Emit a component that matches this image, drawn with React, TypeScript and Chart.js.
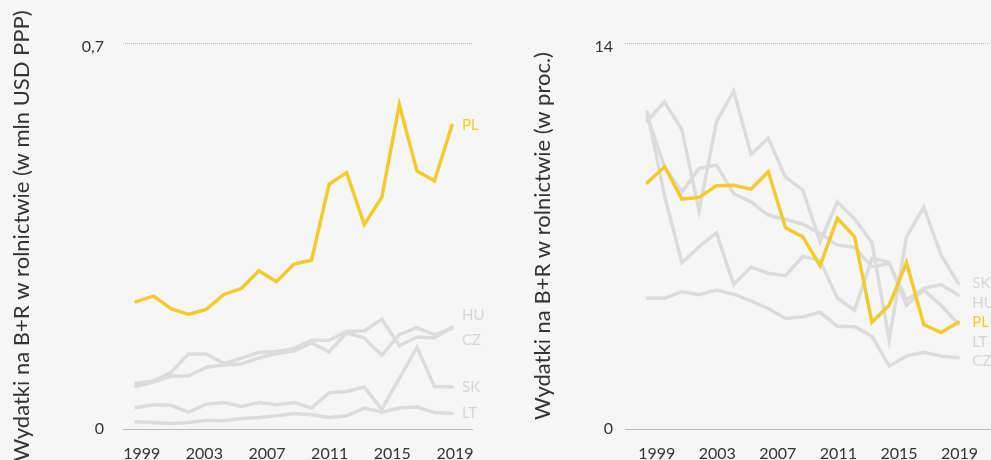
import React, { useEffect, useRef } from 'react';
import { Chart, registerables } from 'chart.js';

Chart.register(...registerables);

const FONT = "Lato, 'Open Sans', sans-serif";
const YELLOW = '#f2cc2f';
const GREY = '#dcdcdc';
const AXIS_GREY = '#bdbdbd';
const GRID_GREY = '#bdbdbd';
const TEXT = '#333333';

// Years of the observations (19 yearly points)
const YEARS = [2000, 2001, 2002, 2003, 2004, 2005, 2006, 2007, 2008, 2009, 2010, 2011, 2012, 2013, 2014, 2015, 2016, 2017, 2018];
// Year labels shown on the horizontal axis
const YEAR_TICKS = [1999, 2003, 2007, 2011, 2015, 2019];

// Left panel: R&D spending on agriculture (mln USD PPP)
const ABS_TICKS = [0, 0.7];
const ABS_PL = [0.231, 0.241, 0.218, 0.208, 0.217, 0.244, 0.255, 0.287, 0.267, 0.299, 0.306, 0.444, 0.465, 0.371, 0.420, 0.588, 0.468, 0.450, 0.551];
const ABS_HU = [0.083, 0.087, 0.103, 0.136, 0.136, 0.119, 0.128, 0.139, 0.140, 0.146, 0.161, 0.161, 0.177, 0.178, 0.199, 0.151, 0.167, 0.165, 0.185];
const ABS_CZ = [0.077, 0.085, 0.096, 0.096, 0.112, 0.116, 0.118, 0.129, 0.137, 0.142, 0.156, 0.140, 0.174, 0.165, 0.134, 0.171, 0.184, 0.171, 0.182];
const ABS_SK = [0.039, 0.044, 0.043, 0.030, 0.045, 0.048, 0.041, 0.048, 0.044, 0.048, 0.038, 0.066, 0.068, 0.076, 0.036, 0.092, 0.148, 0.077, 0.076];
const ABS_LT = [0.013, 0.012, 0.010, 0.012, 0.016, 0.015, 0.019, 0.021, 0.024, 0.028, 0.026, 0.021, 0.024, 0.038, 0.031, 0.038, 0.040, 0.030, 0.028];

// Right panel: R&D spending on agriculture (%)
const PCT_TICKS = [0, 14];
const PCT_PL = [8.93, 9.51, 8.34, 8.40, 8.82, 8.84, 8.70, 9.33, 7.30, 6.97, 5.92, 7.64, 6.97, 3.87, 4.49, 6.04, 3.79, 3.50, 3.87];
const PCT_SK = [11.17, 11.86, 10.86, 7.91, 11.14, 12.26, 9.97, 10.54, 9.13, 8.67, 6.78, 8.24, 7.62, 6.77, 3.23, 6.97, 8.05, 6.31, 5.28];
const PCT_HU = [11.34, 9.50, 8.60, 9.45, 9.57, 8.54, 8.24, 7.76, 7.60, 7.43, 7.09, 6.67, 6.59, 5.88, 6.01, 4.68, 5.10, 5.24, 4.86];
const PCT_LT = [11.50, 8.45, 6.03, 6.61, 7.11, 5.24, 5.87, 5.65, 5.56, 6.26, 6.11, 4.74, 4.31, 6.19, 6.05, 4.49, 5.04, 4.49, 3.81];
const PCT_CZ = [4.74, 4.74, 4.98, 4.87, 5.04, 4.89, 4.65, 4.37, 4.01, 4.07, 4.23, 3.73, 3.71, 3.37, 2.28, 2.65, 2.78, 2.65, 2.58];

const endLabelsPlugin = {
  id: 'endLabels',
  afterDatasetsDraw(chart: any, _args: any, opts: any) {
    const { ctx } = chart;
    const items = chart.data.datasets.map((ds: any, i: number) => {
      const meta = chart.getDatasetMeta(i);
      const pt = meta.data[meta.data.length - 1];
      return { text: ds.label, color: ds.labelColor || ds.borderColor, x: pt.x, y: pt.y };
    }).sort((a: any, b: any) => a.y - b.y);
    const gap = opts.gap;
    if (opts.mode === 'push') {
      for (let k = 1; k < items.length; k++) {
        if (items[k].y - items[k - 1].y < gap) items[k].y = items[k - 1].y + gap;
      }
    } else {
      for (let iter = 0; iter < 300; iter++) {
        let moved = false;
        for (let k = 1; k < items.length; k++) {
          const d = items[k].y - items[k - 1].y;
          if (d < gap - 0.01) {
            const s = (gap - d) / 2;
            items[k - 1].y -= s;
            items[k].y += s;
            moved = true;
          }
        }
        if (!moved) break;
      }
    }
    ctx.save();
    ctx.font = `${opts.size}px ${FONT}`;
    ctx.textBaseline = 'middle';
    ctx.textAlign = 'left';
    items.forEach((it: any) => {
      ctx.fillStyle = it.color;
      ctx.fillText(it.text, it.x + opts.dx, it.y);
    });
    ctx.restore();
  },
};

type Panel = {
  series: { name: string; values: number[] }[];
  yTicks: number[];
  title: string;
  yWidth: number;
  tickPad: number;
  padRight: number;
  xMin: number;
  xMax: number;
  tMin: number;
  tMax: number;
  labelDx: number;
  gap: number;
  mode: string;
};

function buildConfig(p: Panel): any {
  const yMax = p.yTicks[p.yTicks.length - 1];
  return {
    type: 'line',
    data: {
      datasets: p.series.map((s) => ({
        label: s.name,
        data: YEARS.map((yr, i) => ({ x: yr, y: s.values[i] })),
        borderColor: s.name === 'PL' ? YELLOW : GREY,
        labelColor: s.name === 'PL' ? YELLOW : '#d6d6d6',
        borderWidth: 3.5,
        pointRadius: 0,
        tension: 0,
        borderCapStyle: 'round',
        borderJoinStyle: 'miter',
        xAxisID: 'x',
        yAxisID: 'y',
      })),
    },
    plugins: [endLabelsPlugin],
    options: {
      responsive: false,
      animation: false,
      devicePixelRatio: 1,
      events: [],
      layout: { padding: { top: 43, right: p.padRight, bottom: 0, left: 0 } },
      plugins: {
        legend: { display: false },
        tooltip: { enabled: false },
        endLabels: { gap: p.gap, dx: p.labelDx, size: 15, mode: p.mode },
      },
      scales: {
        x: { type: 'linear', display: false, min: p.xMin, max: p.xMax, bounds: 'data' },
        xt: {
          type: 'linear',
          position: 'bottom',
          min: p.tMin,
          max: p.tMax,
          bounds: 'data',
          afterBuildTicks: (s: any) => {
            s.ticks = YEAR_TICKS.map((v) => ({ value: v }));
          },
          afterFit: (s: any) => {
            s.height = 40;
            s.paddingLeft = 0;
            s.paddingRight = 0;
          },
          grid: { display: false, drawTicks: false },
          border: { display: true, color: AXIS_GREY, width: 1 },
          ticks: {
            padding: 15,
            color: TEXT,
            font: { family: FONT, size: 16 },
            maxRotation: 0,
            autoSkip: false,
            callback: (v: any) => String(v),
          },
        },
        y: {
          type: 'linear',
          position: 'left',
          min: 0,
          max: yMax,
          afterBuildTicks: (s: any) => {
            s.ticks = p.yTicks.map((v) => ({ value: v }));
          },
          afterFit: (s: any) => {
            s.width = p.yWidth;
          },
          grid: {
            color: (c: any) => (c.tick && c.tick.value === 0 ? 'rgba(0,0,0,0)' : GRID_GREY),
            drawTicks: false,
            lineWidth: 1,
          },
          border: { display: false, dash: [1, 1] },
          ticks: {
            padding: p.tickPad,
            color: TEXT,
            font: (c: any) => ({
              family: FONT,
              size: 16,
              lineHeight: c.tick && c.tick.value !== 0 ? 0.5 : 1.2,
            }),
            callback: (v: any) => (v === 0 ? '0' : ['', String(v).replace('.', ',')]),
          },
          title: {
            display: true,
            text: p.title,
            color: TEXT,
            font: { family: FONT, size: 22 },
            padding: { top: 8.5, bottom: 0 },
          },
        },
      },
    },
  };
}

const LEFT: Panel = {
  series: [
    { name: 'PL', values: ABS_PL },
    { name: 'HU', values: ABS_HU },
    { name: 'CZ', values: ABS_CZ },
    { name: 'SK', values: ABS_SK },
    { name: 'LT', values: ABS_LT },
  ],
  yTicks: ABS_TICKS,
  title: 'Wydatki na B+R w rolnictwie (w mln USD PPP)',
  yWidth: 123,
  tickPad: 19,
  padRight: 28,
  xMin: 1999.26,
  xMax: 2019.139,
  tMin: 1997.806,
  tMax: 2020.085,
  labelDx: 10,
  gap: 25,
  mode: 'spread',
};

const RIGHT: Panel = {
  series: [
    { name: 'PL', values: PCT_PL },
    { name: 'SK', values: PCT_SK },
    { name: 'HU', values: PCT_HU },
    { name: 'LT', values: PCT_LT },
    { name: 'CZ', values: PCT_CZ },
  ],
  yTicks: PCT_TICKS,
  title: 'Wydatki na B+R w rolnictwie (w proc.)',
  yWidth: 104,
  tickPad: 12,
  padRight: 21,
  xMin: 1998.709,
  xMax: 2020.413,
  tMin: 1996.906,
  tMax: 2021.675,
  labelDx: 14,
  gap: 19.5,
  mode: 'push',
};

function LineChart({ panel, left }: { panel: Panel; left: number }) {
  const ref = useRef<HTMLCanvasElement>(null);
  useEffect(() => {
    if (!ref.current) return;
    const chart = new Chart(ref.current, buildConfig(panel));
    return () => chart.destroy();
  }, [panel]);
  return (
    <div style={{ position: 'absolute', left, top: 0, width: 500, height: 469 }}>
      <canvas ref={ref} width={500} height={469} style={{ width: 500, height: 469, display: 'block' }} />
    </div>
  );
}

export default function App() {
  return (
    <div
      style={{
        position: 'fixed',
        left: 0,
        top: 0,
        width: 991,
        height: 460,
        overflow: 'hidden',
        background: '#f6f6f6',
      }}
    >
      <LineChart panel={LEFT} left={0} />
      <LineChart panel={RIGHT} left={521} />
    </div>
  );
}
